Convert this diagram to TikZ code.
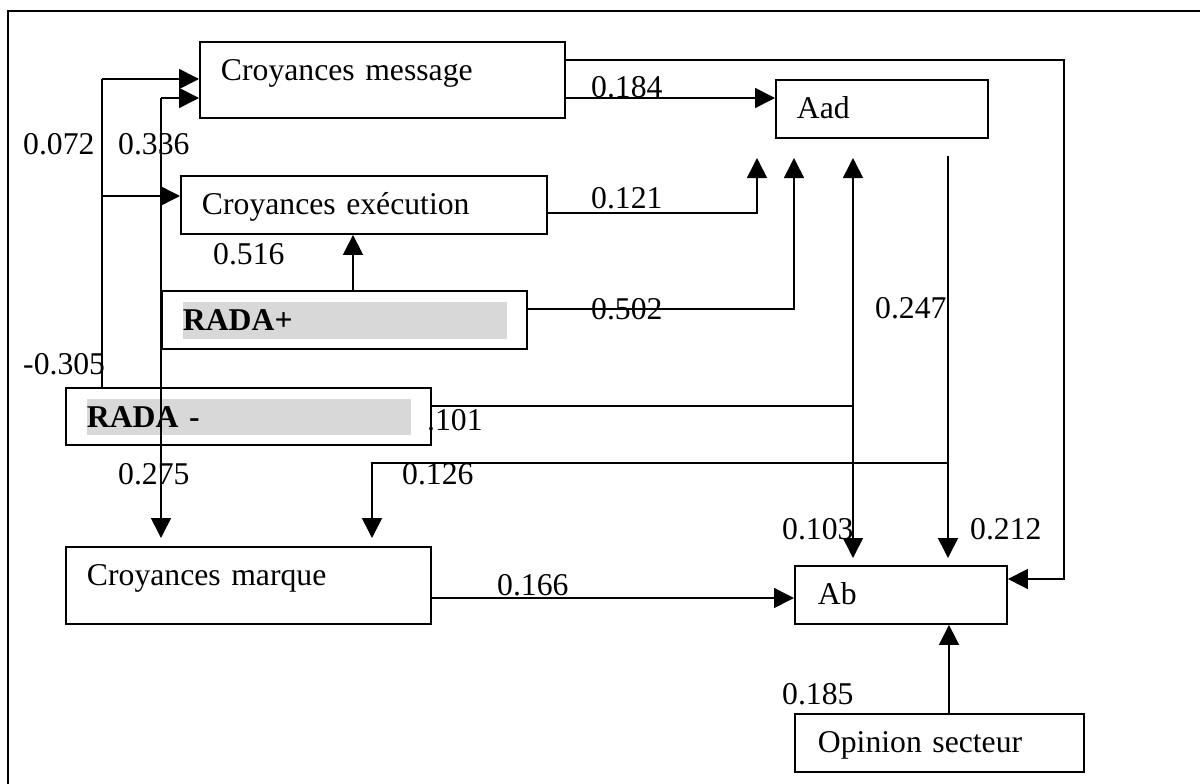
\documentclass[tikz,border=0pt]{standalone}
\usepackage{fontspec}
\setmainfont{Liberation Serif}
\usetikzlibrary{arrows.meta}
\definecolor{hl}{RGB}{216,216,216}
\begin{document}
\begin{tikzpicture}[x=1pt,y=-1pt,
  every node/.style={font=\fontsize{31.7pt}{38pt}\selectfont},
  box/.style={draw, line width=1.9pt, fill=white, anchor=north west, inner xsep=21pt, inner ysep=0pt, align=left, text height=39pt},
  shade/.style={path picture={\fill[hl] ([xshift=21pt,yshift=-11pt]path picture bounding box.north west) rectangle ([xshift=-20pt,yshift=10pt]path picture bounding box.south east);}},
  lbl/.style={anchor=base west, inner sep=0pt},
  conn/.style={line width=1.6pt},
  arr/.style={conn, -{Triangle[length=20pt,width=20pt]}}
]
\useasboundingbox (0,0) rectangle (1200,784);
% frame
\draw[line width=2.6pt] (8,784) -- (8,11) -- (1200,11);

% boxes
\node[box, text width=323pt, text depth=37pt] (cm) at (199,41) {Croyances message};
\node[box, text width=324pt, text depth=19pt] (ce) at (180,175) {Croyances exécution};
\node[box, text width=170pt, text depth=19pt] (aad) at (775,79) {Aad};
\node[box, shade, text width=323pt, text height=40pt, text depth=18pt] (rp) at (161,290) {\textbf{RADA+}};
\node[box, shade, text width=323pt, text height=40pt, text depth=17pt] (rm) at (65,387) {\textbf{RADA -}};
\node[box, text width=323pt, text depth=38pt] (cmq) at (65,546) {Croyances marque};
\node[box, inner xsep=23pt, text width=166pt, text depth=19pt] (ab) at (794,565) {Ab};
\node[box, inner xsep=23pt, text width=243pt, text depth=19pt] (op) at (794,713) {Opinion secteur};

% labels
\node[lbl] (l072) at (23,154) {0.072};
\node[lbl] (l336) at (118,154) {0.336};
\node[lbl] (l516) at (213,264) {0.516};
\node[lbl] (l184) at (591,98) {0.184};
\node[lbl] (l121) at (591,208) {0.121};
\node[lbl] (l502) at (591,319) {0.502};
\node[lbl] (l305) at (23,374) {-0.305};
\node[lbl] (l101) at (427,430) {.101};
\node[lbl] (l126) at (402,484) {0.126};
\node[lbl] (l275) at (118,484) {0.275};
\node[lbl] (l247) at (875,318) {0.247};
\node[lbl] (l103) at (782,539) {0.103};
\node[lbl] (l212) at (970,539) {0.212};
\node[lbl] (l166) at (497,595) {0.166};
\node[lbl] (l185) at (782,704) {0.185};

% coordinates
\coordinate (t121) at (757,158);
\coordinate (t502) at (794,158);
\coordinate (t101) at (853,158);
\coordinate (j101) at (853,406);
\coordinate (t103) at (853,558);
\coordinate (s247) at (948,156);
\coordinate (j126) at (948,463);
\coordinate (t212) at (948,558);
\coordinate (k126) at (372,463);
\coordinate (t126) at (372,538);
\coordinate (ra) at (1064,60);
\coordinate (rb) at (1064,579);
\coordinate (j072a) at (102,79);
\coordinate (j072b) at (102,196);
\coordinate (j336) at (161,98);
\coordinate (t275) at (161,538);

% connectors
\draw[arr] ([yshift=-19pt]cm.north east) -- (ra) -- (rb) -- ([yshift=-14pt]ab.north east);
\draw[arr] ([yshift=-57pt]cm.north east) -- ([yshift=-19pt]aad.north west);
\draw[arr] ([yshift=-38pt]ce.north east) -| (t121);
\draw[arr] ([yshift=-19pt]rp.north east) -| (t502);
\draw[conn] ([yshift=-19pt]rm.north east) -- (j101);
\draw[arr] (j101) -- (t101);
\draw[arr] (j101) -- (t103);
\draw[arr] (s247) -- (t212);
\draw[arr] (j126) -- (k126) -- (t126);
\draw[conn] ([xshift=37pt]rm.north west) -- (j072a);
\draw[arr] (j072a) -- ([yshift=-38pt]cm.north west);
\draw[arr] (j072b) -- ([yshift=-21pt]ce.north west);
\draw[arr] (j336) -- ([yshift=-57pt]cm.north west);
\draw[arr] (j336) -- (t275);
\draw[arr] ([xshift=192pt]rp.north west) -- ([xshift=173pt]ce.south west);
\draw[arr] ([yshift=-52pt]cmq.north east) -- ([yshift=-33pt]ab.north west);
\draw[arr] ([xshift=155pt]op.north west) -- ([xshift=155pt]ab.south west);
\end{tikzpicture}
\end{document}
